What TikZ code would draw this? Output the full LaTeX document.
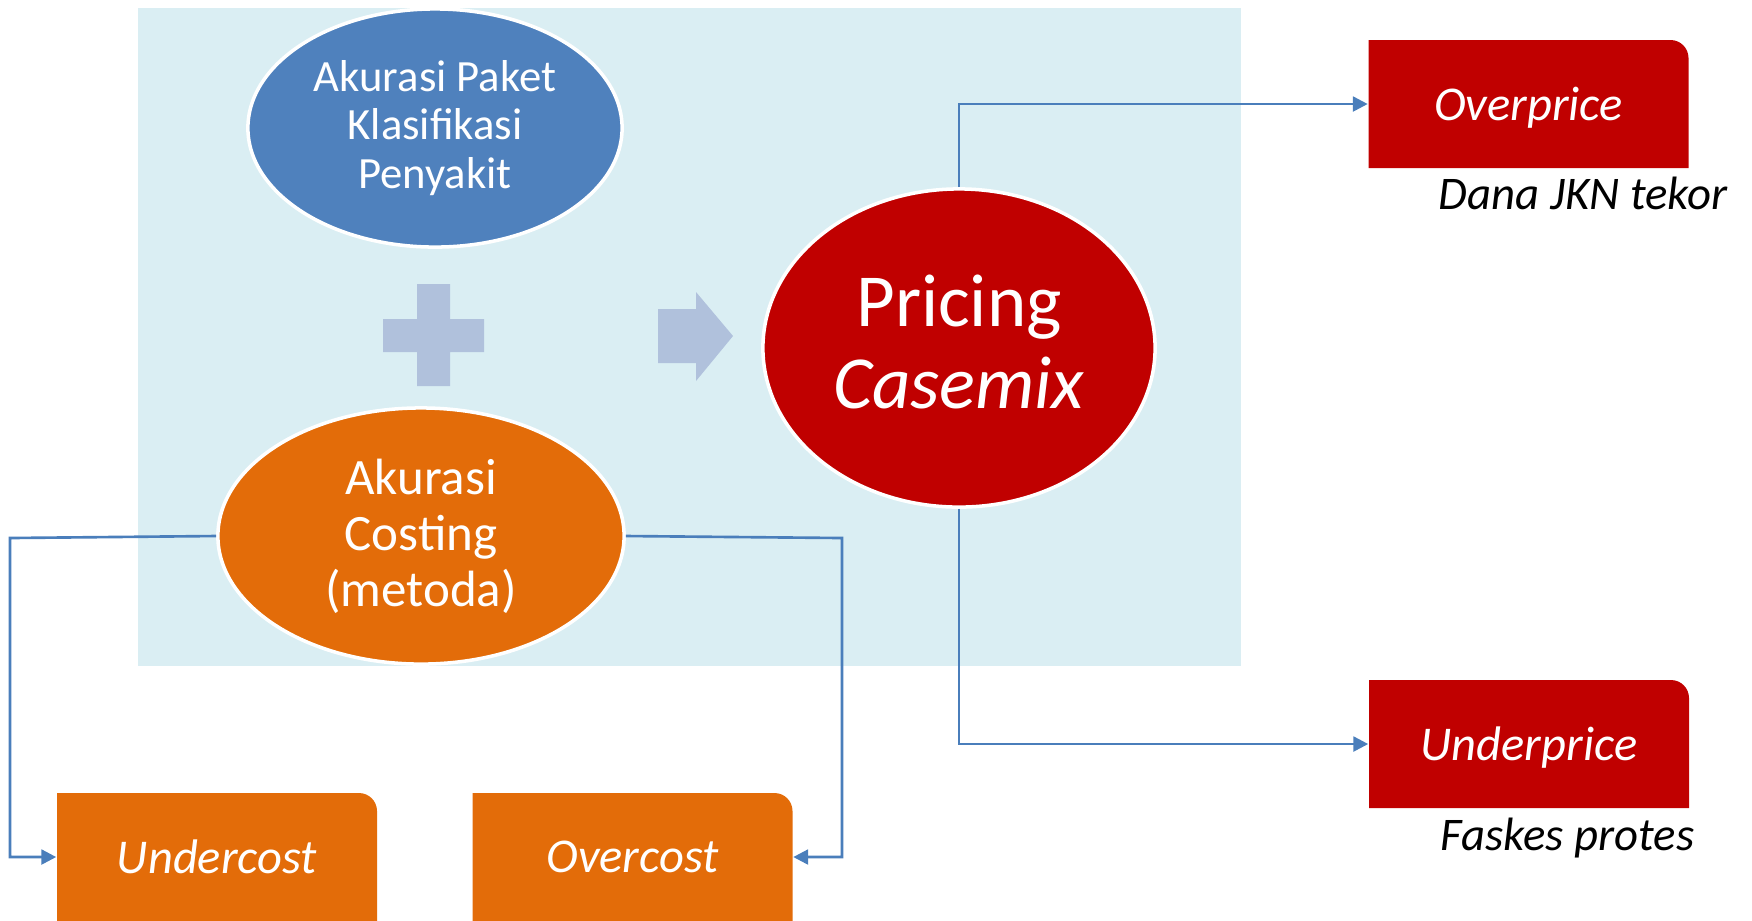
\documentclass[tikz,border=0pt]{standalone}
\usepackage{fontspec}
\setmainfont{Carlito}
\usetikzlibrary{shapes.geometric,arrows.meta}
\definecolor{bgblue}{HTML}{DAEEF3}
\definecolor{ellblue}{HTML}{4F81BD}
\definecolor{ellorange}{HTML}{E36C09}
\definecolor{darkred}{HTML}{C00000}
\definecolor{plusblue}{HTML}{B0C1DC}
\definecolor{linkblue}{HTML}{4A7EBB}
\newcommand\tabfill[3]{\fill[#3] (#1,#2-64) [rounded corners=0.18cm] -- (#1+160,#2-64) -- (#1+160,#2) [sharp corners] -- (#1+160,#2+64) -- (#1-160,#2+64) -- (#1-160,#2-64) -- cycle;}
\begin{document}
\begin{tikzpicture}[x=0.01cm,y=-0.01cm,
  ell/.style={ellipse, draw=white, line width=1pt, inner sep=0pt, text=white, align=center},
  box/.style={minimum width=3.2cm, minimum height=1.28cm, inner sep=0pt, text depth=0pt, text=white, font=\fontsize{13.8}{16}\selectfont\itshape},
  conn/.style={draw=linkblue, line width=0.75pt, -{Triangle[length=4.2pt,width=4.2pt]}},
  note/.style={anchor=base west, inner sep=0pt, font=\fontsize{13.3}{16}\selectfont\itshape}
]
\useasboundingbox (0,0) rectangle (1752,920);
\fill[bgblue] (138,8) rectangle (1241,666);
\fill[plusblue] (417,284) -- (450,284) -- (450,319) -- (484,319) -- (484,352) -- (450,352) -- (450,386) -- (417,386) -- (417,352) -- (383,352) -- (383,319) -- (417,319) -- cycle;
\fill[plusblue] (658,309) -- (696,309) -- (696,292) -- (733,336) -- (696,381) -- (696,363) -- (658,363) -- cycle;

\node[ell, fill=ellblue, minimum width=3.74cm, minimum height=2.38cm, font=\fontsize{12.7}{13.9}\selectfont] (klas) at (435,128) {Akurasi Paket\\Klasifikasi\\Penyakit};
\node[ell, fill=ellorange, minimum width=4.06cm, minimum height=2.56cm, font=\fontsize{14.5}{15.9}\selectfont] (cost) at (421,536) {Akurasi\\Costing\\(metoda)};
\node[ell, fill=darkred, minimum width=3.92cm, minimum height=3.18cm, font=\fontsize{21.3}{23.4}\selectfont] (pricing) at (959,348) {Pricing\\\textit{Casemix}\vphantom{g}};

\tabfill{1528.5}{104}{darkred}
\node[box] (over) at (1528.5,104) {Overprice};
\tabfill{1529}{744}{darkred}
\node[box] (under) at (1529,744) {Underprice};
\tabfill{217}{857}{ellorange}
\node[box] (undercost) at (217,857) {Undercost};
\tabfill{632.5}{857}{ellorange}
\node[box] (overcost) at (632.5,857) {Overcost};

\node[note] (dana) at (1438,209) {Dana JKN tekor};
\node[note] (faskes) at (1440,850) {Faskes protes};

\coordinate (lbend) at (10,538);
\coordinate (rbend) at (842,538);
\draw[conn] (pricing.north) |- (over.west);
\draw[conn] (pricing.south) |- (under.west);
\draw[conn] (cost.west) -- (lbend) |- (undercost.west);
\draw[conn] (cost.east) -- (rbend) |- (overcost.east);
\end{tikzpicture}
\end{document}
